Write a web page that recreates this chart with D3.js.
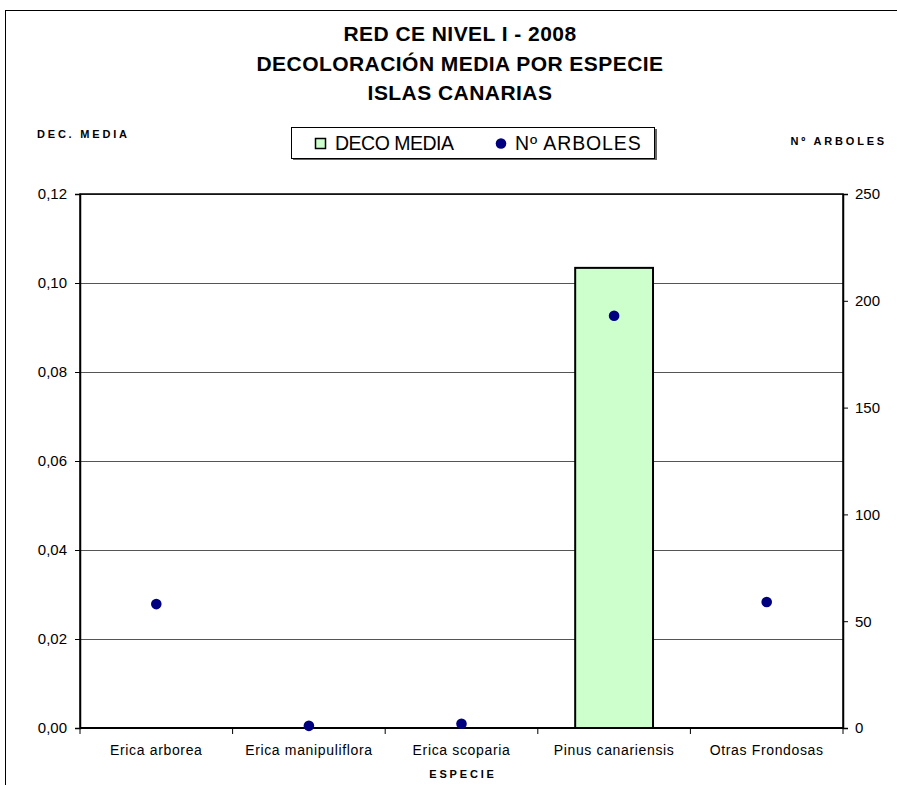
<!DOCTYPE html>
<html><head><meta charset="utf-8">
<script src="https://cdn.jsdelivr.net/npm/d3@7"></script>
<style>body{margin:0;background:#fff}svg{display:block}text{font-family:"Liberation Sans",Arial,sans-serif}</style>
</head><body><svg id="c" width="897" height="785"></svg>
<script>
const categories = ["Erica arborea","Erica manipuliflora","Erica scoparia","Pinus canariensis","Otras Frondosas"];
const decoMedia = [0, 0, 0, 0.1034, 0];
const nArboles = [58, 1, 2, 193, 59];
const leftTicks = [0,0.02,0.04,0.06,0.08,0.10,0.12];
const rightTicks = [0,50,100,150,200,250];
const titleLines = ["RED CE NIVEL I - 2008","DECOLORACIÓN MEDIA POR ESPECIE","ISLAS CANARIAS"];

const svg = d3.select("#c");
const L=80,R=843,T=194,B=728;
svg.append("rect").attr("x",5.5).attr("y",10.5).attr("width",900).attr("height",800).attr("fill","#fff").attr("stroke","#000");

const x = d3.scaleBand().domain(categories).range([L,R]).paddingInner(0).paddingOuter(0);
const yL = d3.scaleLinear().domain([0,0.12]).range([B,T]);
const yR = d3.scaleLinear().domain([0,250]).range([B,T]);

// gridlines
svg.append("g").selectAll("line").data(leftTicks).join("line")
  .attr("x1",L).attr("x2",R).attr("y1",d=>yL(d)+0.5).attr("y2",d=>yL(d)+0.5).attr("stroke","#555").attr("stroke-width",1);

// bars
const bw = x.bandwidth()*0.51;
svg.append("g").selectAll("rect").data(categories.map((c,i)=>({c,v:decoMedia[i]})).filter(d=>d.v>0)).join("rect")
  .attr("x",d=>x(d.c)+x.bandwidth()/2-bw/2).attr("width",bw)
  .attr("y",d=>yL(d.v)).attr("height",d=>B-yL(d.v))
  .attr("fill","#ccffcc").attr("stroke","#000").attr("stroke-width",2);

// plot border
svg.append("rect").attr("x",L).attr("y",T).attr("width",R-L).attr("height",B-T).attr("fill","none").attr("stroke","#000").attr("stroke-width",1.5);

// left axis
const fmt = d=>d3.format(".2f")(d).replace(".",",");
const gl = svg.append("g").attr("transform",`translate(${L},0)`).call(d3.axisLeft(yL).tickValues(leftTicks).tickFormat(fmt).tickSize(5).tickPadding(8));
gl.selectAll("text").attr("font-size",15).attr("font-family","Liberation Sans, Arial").attr("fill","#000");
gl.select(".domain").attr("stroke","#000").attr("stroke-width",1.5);
gl.selectAll(".tick line").attr("stroke","#000");

// right axis
const gr = svg.append("g").attr("transform",`translate(${R},0)`).call(d3.axisRight(yR).tickValues(rightTicks).tickSize(5).tickPadding(7));
gr.selectAll("text").attr("font-size",15).attr("font-family","Liberation Sans, Arial").attr("fill","#000");
gr.select(".domain").attr("stroke","#000").attr("stroke-width",1.5);
gr.selectAll(".tick line").attr("stroke","#000");

// bottom axis
const gb = svg.append("g").attr("transform",`translate(0,${B})`);
gb.append("line").attr("x1",L).attr("x2",R).attr("stroke","#000").attr("stroke-width",2);
gb.selectAll("line.t").data(categories.concat(["_end"])).join("line").attr("class","t")
  .attr("x1",(d,i)=>i<categories.length?x(d):R).attr("x2",(d,i)=>i<categories.length?x(d):R)
  .attr("y1",0).attr("y2",6).attr("stroke","#000");
gb.selectAll("text").data(categories).join("text")
  .attr("x",d=>x(d)+x.bandwidth()/2).attr("y",27).attr("text-anchor","middle")
  .attr("font-size",14).attr("letter-spacing",0.65).text(d=>d);

// points
svg.append("g").selectAll("circle").data(categories.map((c,i)=>({c,v:nArboles[i]}))).join("circle")
  .attr("cx",d=>x(d.c)+x.bandwidth()/2).attr("cy",d=>yR(d.v)).attr("r",5.3).attr("fill","#000080");

// titles
svg.append("g").selectAll("text").data(titleLines).join("text")
  .attr("x",460).attr("y",(d,i)=>41+i*29.5).attr("text-anchor","middle")
  .attr("font-size",21).attr("font-weight","bold").attr("letter-spacing",0.45).text(d=>d);

svg.append("text").attr("x",37).attr("y",138).attr("font-size",11).attr("font-weight","bold").attr("letter-spacing",2.8).text("DEC. MEDIA");
svg.append("text").attr("x",887).attr("y",145).attr("text-anchor","end").attr("font-size",11).attr("font-weight","bold").attr("letter-spacing",2.8).text("Nº ARBOLES");
svg.append("text").attr("x",463).attr("y",778).attr("text-anchor","middle").attr("font-size",11).attr("font-weight","bold").attr("letter-spacing",2.8).text("ESPECIE");

// legend
const lg = svg.append("g");
lg.append("rect").attr("x",293).attr("y",129).attr("width",364).attr("height",31).attr("fill","#666");
lg.append("rect").attr("x",291.5).attr("y",127.5).attr("width",363).attr("height",31).attr("fill","#fff").attr("stroke","#000");
lg.append("rect").attr("x",315.5).attr("y",138.5).attr("width",10).attr("height",10).attr("fill","#ccffcc").attr("stroke","#000").attr("stroke-width",1.5);
lg.append("text").attr("x",335).attr("y",149.5).attr("font-size",19.5).attr("letter-spacing",-0.5).text("DECO MEDIA");
lg.append("circle").attr("cx",501).attr("cy",143.5).attr("r",5.3).attr("fill","#000080");
lg.append("text").attr("x",515).attr("y",149.5).attr("font-size",19.5).attr("letter-spacing",0.9).text("Nº ARBOLES");
</script></body></html>
